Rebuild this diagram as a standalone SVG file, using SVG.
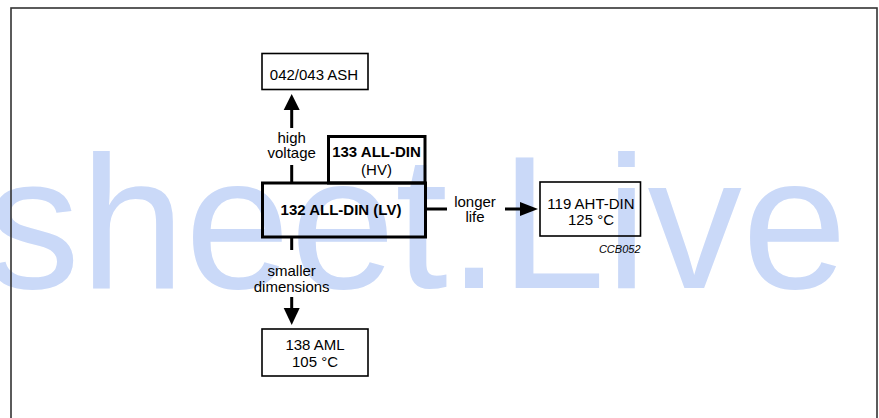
<svg xmlns="http://www.w3.org/2000/svg" width="879" height="418" viewBox="0 0 879 418">
<style>
.t{font-family:"Liberation Sans",Arial,sans-serif;font-size:15px;fill:#000;text-anchor:middle}
.b{font-weight:bold}
.box{fill:none;stroke:#000;stroke-width:1.6}
.thick{fill:none;stroke:#000;stroke-width:3}
.ln{stroke:#000;stroke-width:3;fill:none}
.hd{fill:#000;stroke:none}
</style>
<rect x="0" y="0" width="879" height="418" fill="#fff"/>
<text x="-14.5" y="288" font-family="'Liberation Sans',Arial,sans-serif" font-size="189" fill="#cad9f8">sheet.Live</text>
<rect x="11" y="8" width="866" height="420" fill="none" stroke="#333" stroke-width="1.6"/>
<g id="connectors">
<line class="ln" x1="291.7" y1="183" x2="291.7" y2="165"/>
<line class="ln" x1="291.7" y1="128" x2="291.7" y2="108"/>
<polygon class="hd" points="291.7,94 283.7,110 299.7,110"/>
<line class="ln" x1="291.7" y1="237" x2="291.7" y2="250"/>
<line class="ln" x1="291.7" y1="297" x2="291.7" y2="310"/>
<polygon class="hd" points="291.7,325 283.7,308 299.7,308"/>
<line class="ln" x1="426" y1="209" x2="447" y2="209"/>
<line class="ln" x1="505" y1="209" x2="522" y2="209"/>
<polygon class="hd" points="538,209 520,202 520,216"/>
<text class="t" x="291.7" y="142.7">high</text>
<text class="t" x="291.7" y="157.5">voltage</text>
<text class="t" x="475" y="206.7">longer</text>
<text class="t" x="475" y="222">life</text>
<text class="t" x="291.7" y="276">smaller</text>
<text class="t" x="291.7" y="291.5">dimensions</text>
</g>
<g id="ash">
<rect class="box" x="262" y="53.5" width="106" height="36"/>
<text class="t" x="314" y="79.7">042/043 ASH</text>
</g>
<g id="all133">
<rect class="thick" x="328.5" y="136.5" width="96.5" height="46.5"/>
<text class="t b" x="376.5" y="156.5">133 ALL-DIN</text>
<text class="t" x="376.5" y="174.5">(HV)</text>
</g>
<g id="all132">
<rect class="thick" x="262.5" y="183" width="163" height="54"/>
<text class="t b" x="341" y="215">132 ALL-DIN (LV)</text>
</g>
<g id="aht">
<rect class="box" x="540" y="182" width="100.5" height="54"/>
<text class="t" x="591" y="208.7">119 AHT-DIN</text>
<text class="t" x="591" y="224.7">125 °C</text>
<text x="640.5" y="253" font-family="'Liberation Sans',Arial,sans-serif" font-size="11" font-style="italic" text-anchor="end">CCB052</text>
</g>
<g id="aml">
<rect class="box" x="262" y="329" width="106" height="47"/>
<text class="t" x="315" y="350">138 AML</text>
<text class="t" x="315" y="366.5">105 °C</text>
</g>
</svg>
